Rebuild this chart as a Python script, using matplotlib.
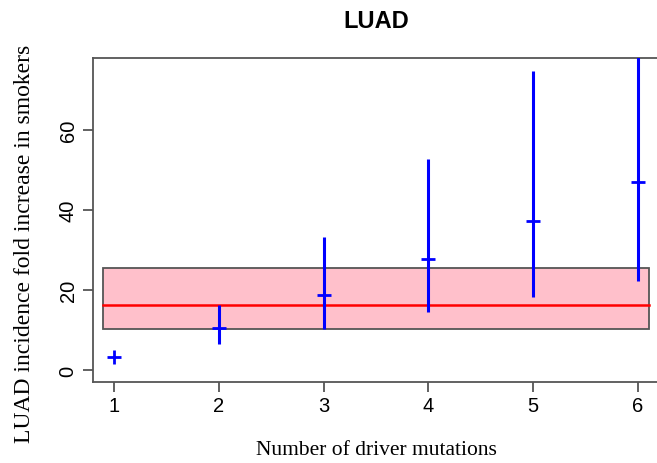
import numpy as np
import matplotlib
matplotlib.use('Agg')
import matplotlib.pyplot as plt
from matplotlib.patches import Rectangle

# data
n_mut = [1, 2, 3, 4, 5, 6]
fold = [3.3, 10.4, 18.7, 27.7, 37.2, 47.1]
lower = [3.0, 6.5, 10.3, 14.4, 18.3, 22.3]
upper = [3.6, 16.3, 33.2, 52.8, 74.8, 95.0]

band_x = [0.9, 6.1]
band_lo, band_mid, band_hi = 10.2, 16.2, 25.5

W, H = 657, 464
fig = plt.figure(figsize=(W / 100, H / 100), dpi=100)
# axes in pixel coordinates: left 93, right 659, top 59, bottom 383
ax = fig.add_axes([93 / W, 1 - 383 / H, (659 - 93) / W, (383 - 59) / H])

sans = ['Liberation Sans', 'DejaVu Sans']
serif = ['Liberation Serif', 'DejaVu Serif']

ax.add_patch(Rectangle((band_x[0], band_lo), band_x[1] - band_x[0], band_hi - band_lo,
                       facecolor='#ffc0cb', edgecolor='#555555', lw=1.3, zorder=1))
ax.plot(band_x, [band_mid, band_mid], color='red', lw=1.8, zorder=2)

ax.vlines(n_mut, lower, upper, color='blue', lw=2.2, zorder=3)
ax.plot(n_mut, fold, linestyle='none', marker='+', markersize=10, mew=2.0,
        color='blue', zorder=4)

ax.set_xlim(0.8, 6.2)
ax.set_ylim(-3, 78)
ax.set_xticks(n_mut)
ax.set_yticks([0, 20, 40, 60])

for s in ['left', 'bottom', 'top']:
    ax.spines[s].set_color('#555555')
    ax.spines[s].set_linewidth(1.3)
ax.spines['right'].set_visible(False)

ax.tick_params(direction='out', length=7, width=1.3, color='#555555',
               labelsize=14.5, pad=4)
ax.tick_params(axis='x', pad=3)
for lab in ax.get_xticklabels():
    lab.set_family(sans)
for lab in ax.get_yticklabels():
    lab.set_family(sans)
    lab.set_rotation(90)
    lab.set_va('center')

ax.set_title('LUAD', fontsize=17, fontweight='bold', family=sans, pad=22)
ax.set_xlabel('Number of driver mutations', fontsize=15.5, family=serif, labelpad=18)
ax.set_ylabel('LUAD incidence fold increase in smokers', fontsize=17, family=serif,
              labelpad=12)
ax.yaxis.set_label_coords(-0.102, 0.43)

fig.savefig('out.png', dpi=100)
